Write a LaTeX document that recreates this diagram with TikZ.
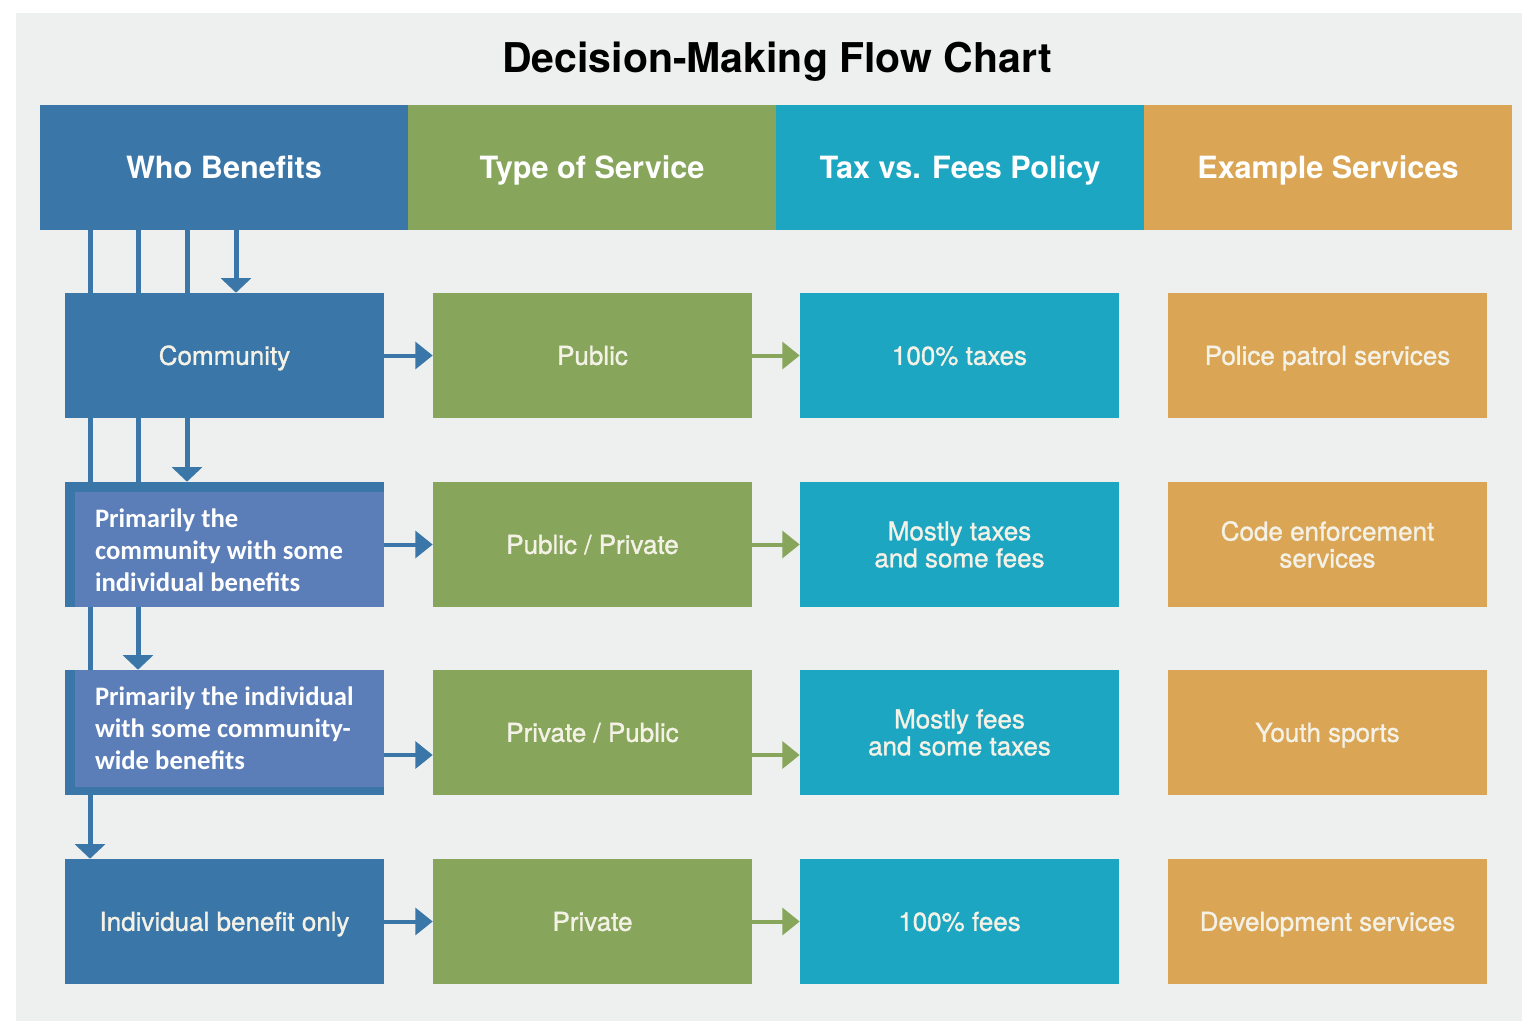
\documentclass[tikz,border=0pt]{standalone}
\usepackage{fontspec}
\setmainfont{TeX Gyre Heros}
\newfontfamily\calib{Carlito}
\font\rowfnt="TeX Gyre Heros:embolden=1.2" at 19.5pt
\usetikzlibrary{arrows.meta,calc}
\definecolor{cblue}{HTML}{3A77A8}
\definecolor{cgreen}{HTML}{87A65B}
\definecolor{cteal}{HTML}{1DA6C1}
\definecolor{corange}{HTML}{DAA554}
\definecolor{covl}{HTML}{5B7DB8}
\definecolor{cbg}{HTML}{EDF0EF}
\definecolor{ctext}{HTML}{F4F1E6}
\pgfdeclarelayer{bg}
\pgfdeclarelayer{lines}
\pgfsetlayers{bg,lines,main}
\begin{document}
\begin{tikzpicture}[x=0.75pt,y=-0.75pt,
  hdr/.style={rectangle, inner sep=0pt, minimum width=276pt, minimum height=93.75pt,
    text=white, font=\bfseries\fontsize{23}{27}\selectfont, text height=21.5pt, text depth=5pt},
  cell/.style={rectangle, inner sep=0pt, minimum width=239.25pt, minimum height=93.75pt,
    text=ctext, font={\rowfnt\baselineskip=20.25pt}, align=center},
  one/.style={text height=18.5pt, text depth=4.5pt},
  ovbox/.style={rectangle, fill=covl, inner sep=0pt, minimum width=231.75pt},
  ovtext/.style={inner sep=0pt, text=white, font=\calib\bfseries\fontsize{20}{24}\selectfont, align=left},
  vconn/.style={draw=cblue, line width=3.75pt, -{Triangle[width=22.5pt,length=11pt]}},
  barr/.style={draw=cblue, line width=3pt, -{Triangle[width=20pt,length=13pt]}},
  garr/.style={draw=cgreen, line width=3pt, -{Triangle[width=20pt,length=13pt]}}
]
\useasboundingbox (0,0) rectangle (1522,1021);
\begin{pgfonlayer}{bg}
  \fill[white] (0,0) rectangle (1522,1021);
  \fill[cbg] (16,13) rectangle (1522,1021);
\end{pgfonlayer}

% title
\node[anchor=base, font=\bfseries\fontsize{30.75}{34}\selectfont] (title) at (777,72) {Decision-Making Flow Chart};

% headers
\node[hdr, fill=cblue]   (hw) at (224,167.5)  {Who Benefits};
\node[hdr, fill=cgreen]  (ht) at (592,167.5)  {Type of Service};
\node[hdr, fill=cteal]   (hx) at (960,167.5)  {Tax vs. Fees Policy};
\node[hdr, fill=corange] (he) at (1328,167.5) {Example Services};

% row 1
\node[cell, one, fill=cblue]   (r1) at (224.5,355.5)  {Community};
\node[cell, one, fill=cgreen]  (g1) at (592.5,355.5)  {Public};
\node[cell, one, fill=cteal]   (t1) at (959.5,355.5)  {100\% taxes};
\node[cell, one, fill=corange] (o1) at (1327.5,355.5) {Police patrol services};
% row 2
\node[cell, fill=cblue]        (r2) at (224.5,544.5)  {};
\node[cell, one, fill=cgreen]  (g2) at (592.5,544.5)  {Public / Private};
\node[cell, fill=cteal]        (t2) at (959.5,544.5)  {Mostly taxes\\and some fees};
\node[cell, fill=corange]      (o2) at (1327.5,544.5) {Code enforcement\\services};
% row 3
\node[cell, fill=cblue]        (r3) at (224.5,732.5)  {};
\node[cell, one, fill=cgreen]  (g3) at (592.5,732.5)  {Private / Public};
\node[cell, fill=cteal]        (t3) at (959.5,732.5)  {Mostly fees\\and some taxes};
\node[cell, one, fill=corange] (o3) at (1327.5,732.5) {Youth sports};
% row 4
\node[cell, one, fill=cblue]   (r4) at (224.5,921.5)  {Individual benefit only};
\node[cell, one, fill=cgreen]  (g4) at (592.5,921.5)  {Private};
\node[cell, one, fill=cteal]   (t4) at (959.5,921.5)  {100\% fees};
\node[cell, one, fill=corange] (o4) at (1327.5,921.5) {Development services};

% overlays
\node[ovbox, minimum height=86.6pt]  (ov2) at (229.5,549.75) {};
\node[ovtext, anchor=west] (ov2t) at ($(ov2.west)+(20,0)$) {Primarily the\\community with some\\individual benefits};
\node[ovbox, minimum height=87.75pt] (ov3) at (229.5,728.5) {};
\node[ovtext, anchor=west] (ov3t) at ($(ov3.west)+(20,0)$) {Primarily the individual\\with some community-\\wide benefits};

% vertical connectors
\coordinate (cx1) at (90,0);
\coordinate (cx2) at (138,0);
\coordinate (cx3) at (187,0);
\coordinate (cx4) at (236,0);
\coordinate (a3) at (0,755);
\begin{pgfonlayer}{lines}
  \draw[vconn] (hw.south -| cx4) -- (r1.north -| cx4);
  \draw[vconn] (hw.south -| cx3) -- (r2.north -| cx3);
  \draw[vconn] (hw.south -| cx2) -- (r3.north -| cx2);
  \draw[vconn] (hw.south -| cx1) -- (r4.north -| cx1);
\end{pgfonlayer}

% horizontal arrows
\draw[barr] (r1.east) -- (g1.west);
\draw[barr] (r2.east) -- (g2.west);
\draw[barr] (r3.east |- a3) -- (g3.west |- a3);
\draw[barr] (r4.east) -- (g4.west);
\draw[garr] (g1.east) -- (t1.west);
\draw[garr] (g2.east) -- (t2.west);
\draw[garr] (g3.east |- a3) -- (t3.west |- a3);
\draw[garr] (g4.east) -- (t4.west);
\end{tikzpicture}
\end{document}
